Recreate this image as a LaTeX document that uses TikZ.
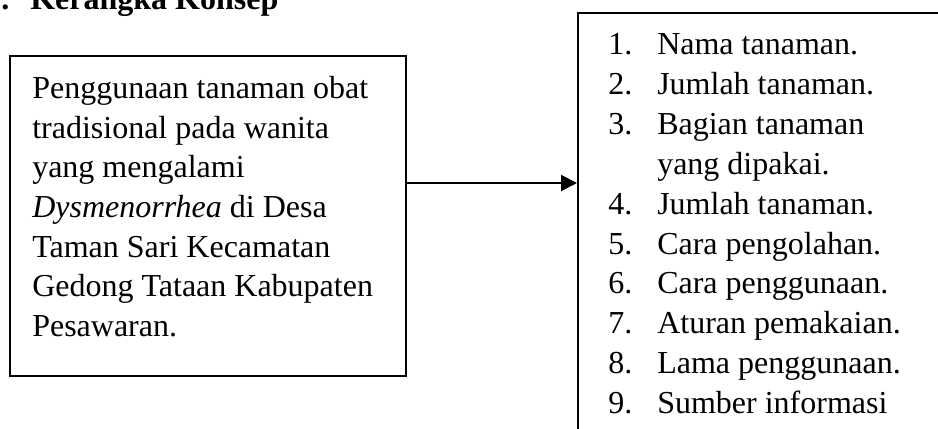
\documentclass[tikz,border=0pt]{standalone}
\usepackage{fontspec}
\setmainfont{Liberation Serif}
\usetikzlibrary{arrows.meta}
\begin{document}
\begin{tikzpicture}[x=0.75pt,y=-0.75pt,
  boxline/.style={draw=black,line width=1.5pt,inner sep=0pt},
  txt/.style={anchor=base west,inner sep=0pt,font=\fontsize{24pt}{30pt}\selectfont},
  ttl/.style={anchor=base west,inner sep=0pt,font=\fontsize{24pt}{30pt}\selectfont\bfseries},
  conn/.style={line width=1.5pt,-{Triangle[length=12pt,width=12pt]}}]
\useasboundingbox (0,0) rectangle (938,428);
\clip (0,0) rectangle (938,428);
\fill[white] (0,0) rectangle (938,428);
% title
\node[ttl] (dot) at (1,10) {.};
\node[ttl] (title) at (30,10) {Kerangka Konsep};
% boxes
\node[boxline,minimum width=297pt,minimum height=239.25pt] (left) at (208,216) {};
\node[boxline,minimum width=275.25pt,minimum height=320.25pt] (right) at (761.5,226.5) {};
% left text
\node[txt] (l1) at (32,98.3) {Penggunaan tanaman obat};
\node[txt] (l2) at (32,138) {tradisional pada wanita};
\node[txt] (l3) at (32,177.7) {yang mengalami};
\node[txt] (l4) at (32,217.4) {\textit{Dysmenorrhea} di Desa};
\node[txt] (l5) at (32,257.1) {Taman Sari Kecamatan};
\node[txt] (l6) at (32,296.8) {Gedong Tataan Kabupaten};
\node[txt] (l7) at (32,336.5) {Pesawaran.};
% right list
\node[txt] (n1) at (608,55) {1.};   \node[txt] (r1) at (657,55) {Nama tanaman.};
\node[txt] (n2) at (608,94.8) {2.}; \node[txt] (r2) at (657,94.8) {Jumlah tanaman.};
\node[txt] (n3) at (608,134.6) {3.};\node[txt] (r3) at (657,134.6) {Bagian tanaman};
\node[txt] (r3b) at (657,174.4) {yang dipakai.};
\node[txt] (n4) at (608,214.2) {4.};\node[txt] (r4) at (657,214.2) {Jumlah tanaman.};
\node[txt] (n5) at (608,254) {5.};  \node[txt] (r5) at (657,254) {Cara pengolahan.};
\node[txt] (n6) at (608,293.8) {6.};\node[txt] (r6) at (657,293.8) {Cara penggunaan.};
\node[txt] (n7) at (608,333.6) {7.};\node[txt] (r7) at (657,333.6) {Aturan pemakaian.};
\node[txt] (n8) at (608,373.4) {8.};\node[txt] (r8) at (657,373.4) {Lama penggunaan.};
\node[txt] (n9) at (608,413.2) {9.};\node[txt] (r9) at (657,413.2) {Sumber informasi};
% connector
\coordinate (ay) at (0,183);
\draw[conn] (ay -| left.east) -- (ay -| right.west);
\end{tikzpicture}
\end{document}
